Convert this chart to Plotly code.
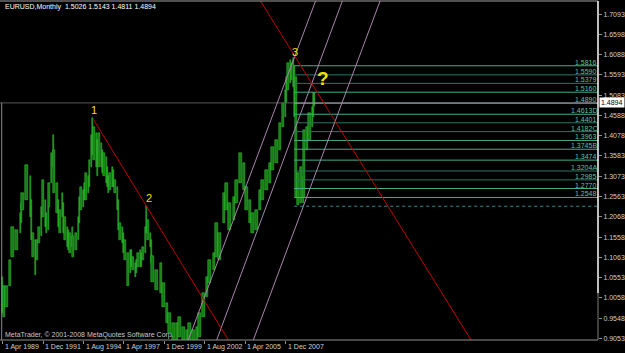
import plotly.graph_objects as go

# ---------------- data ----------------
# month index: 0 = Apr 1989
months = [0, 1, 3, 6, 8, 11, 14, 15, 16, 19, 22, 23, 24, 26, 27, 29, 31, 32, 34, 35,
          36, 37, 39, 40, 41, 43, 44, 45, 47, 48, 49, 51, 52, 53, 55, 56, 58, 60, 61, 62,
          64, 65, 66, 68, 69, 70, 71, 72, 74, 75, 76, 78, 79, 80, 82, 83, 84, 85, 87, 88,
          89, 91, 92, 93, 95, 96, 97, 99, 101, 102, 103, 105, 106, 107, 109, 110, 111, 113, 114, 115,
          117, 118, 119, 122, 125, 127, 130, 132, 135, 138, 140, 143, 146, 148, 151, 154, 156, 159, 162, 164,
          167, 169, 172, 175, 177, 180, 183, 185, 188, 191, 193, 196, 198, 201, 204, 206, 209, 212, 214, 217,
          220, 222, 224, 225, 226, 228, 229, 230, 231, 232, 234, 236, 238, 239, 241, 243, 245, 246, 247]
highs = [1.058, 1.034, 1.034, 1.100, 1.182, 1.174, 1.216, 1.240, 1.265, 1.335, 1.307, 1.249, 1.166, 1.149, 1.149, 1.182, 1.232, 1.298, 1.249, 1.216,
         1.232, 1.290, 1.364, 1.410, 1.373, 1.290, 1.249, 1.224, 1.265, 1.240, 1.207, 1.182, 1.174, 1.166, 1.182, 1.158, 1.166, 1.207, 1.257, 1.282,
         1.273, 1.290, 1.315, 1.307, 1.348, 1.410, 1.451, 1.430, 1.414, 1.397, 1.414, 1.389, 1.373, 1.364, 1.356, 1.331, 1.307, 1.315, 1.331, 1.323,
         1.298, 1.282, 1.249, 1.191, 1.182, 1.166, 1.149, 1.116, 1.125, 1.125, 1.108, 1.092, 1.100, 1.116, 1.125, 1.116, 1.133, 1.182, 1.234, 1.199,
         1.166, 1.149, 1.110, 1.075, 1.092, 1.043, 0.993, 0.968, 0.943, 0.943, 0.958, 0.933, 0.926, 0.943, 0.926, 0.933, 0.968, 1.018, 1.058, 1.100,
         1.117, 1.191, 1.167, 1.266, 1.291, 1.241, 1.256, 1.298, 1.365, 1.340, 1.281, 1.249, 1.216, 1.224, 1.273, 1.298, 1.323, 1.340, 1.380, 1.397,
         1.440, 1.489, 1.522, 1.554, 1.589, 1.596, 1.589, 1.601, 1.581, 1.554, 1.316, 1.330, 1.306, 1.422, 1.430, 1.464, 1.479, 1.514, 1.5143]
lows = [0.967, 0.959, 0.984, 1.034, 1.108, 1.125, 1.166, 1.191, 1.224, 1.249, 1.207, 1.149, 1.108, 1.063, 1.100, 1.141, 1.158, 1.207, 1.182, 1.166,
        1.174, 1.232, 1.290, 1.331, 1.265, 1.216, 1.182, 1.166, 1.207, 1.166, 1.149, 1.133, 1.125, 1.116, 1.133, 1.108, 1.125, 1.149, 1.191, 1.224,
        1.232, 1.249, 1.249, 1.265, 1.282, 1.331, 1.360, 1.348, 1.331, 1.307, 1.331, 1.331, 1.315, 1.307, 1.290, 1.282, 1.265, 1.273, 1.282, 1.282,
        1.265, 1.224, 1.174, 1.149, 1.141, 1.116, 1.100, 1.034, 1.067, 1.083, 1.075, 1.058, 1.067, 1.083, 1.083, 1.083, 1.100, 1.116, 1.166, 1.149,
        1.133, 1.092, 1.045, 1.025, 1.018, 0.983, 0.943, 0.919, 0.895, 0.895, 0.909, 0.895, 0.895, 0.895, 0.895, 0.895, 0.909, 0.958, 1.008, 1.043,
        1.075, 1.107, 1.100, 1.191, 1.224, 1.174, 1.199, 1.241, 1.291, 1.273, 1.224, 1.191, 1.167, 1.174, 1.224, 1.249, 1.273, 1.291, 1.323, 1.340,
        1.373, 1.430, 1.455, 1.489, 1.522, 1.539, 1.546, 1.529, 1.455, 1.256, 1.236, 1.240, 1.241, 1.256, 1.373, 1.397, 1.430, 1.455, 1.4811]

x_tick_months = [0, 32, 64, 96, 128, 160, 192, 224]
x_tick_labels = ["1 Apr 1989", "1 Dec 1991", "1 Aug 1994", "1 Apr 1997",
                 "1 Dec 1999", "1 Aug 2002", "1 Apr 2005", "1 Dec 2007"]

price_ticks = [1.7093, 1.6598, 1.6088, 1.5593, 1.5083, 1.4588, 1.4078, 1.3583, 1.3073,
               1.2563, 1.2068, 1.1558, 1.1063, 1.0553, 1.0058, 0.9548, 0.9053]

fib_levels = [1.5816, 1.5590, 1.5379, 1.5160, 1.4890, 1.4613, 1.4401, 1.4182,
              1.3963, 1.3745, 1.3474, 1.3204, 1.2985, 1.2770, 1.2548, 1.2330]
fib_labels = ["1.5816", "1.5590", "1.5379", "1.5160", "1.4890", "1.4613D", "1.4401", "1.4182C",
              "1.3963", "1.3745B", "1.3474", "1.3204A", "1.2985", "1.2770", "1.2548", ""]
fib_bright = [1, 0, 0, 1, 2, 1, 0, 0, 1, 1, 1, 0, 0, 1, 1, 3]
fib_start_month = 230.9

red_line_1 = ([71.8, 178.7], [1.4488, 0.9011])
red_line_2 = ([204.2, 370.9], [1.7423, 0.9011])
channel_lines = [([147.0, 247.8], [0.9011, 1.7423]),
                 ([169.5, 269.0], [0.9011, 1.7423]),
                 ([198.5, 298.9], [0.9011, 1.7423])]

bid_price = 1.4894
title_text = "EURUSD,Monthly  1.5026 1.5143 1.4811 1.4894"
copyright_text = "MetaTrader, © 2001-2008 MetaQuotes Software Corp."
wave_labels = [("1", 72.6, 1.4718), ("2", 116.1, 1.2542), ("3", 231.5, 1.6165)]
question_label = ("?", 253.5, 1.5512)

X_RANGE = [-2.14, 471.5]
Y_RANGE = [0.9011, 1.7423]

FONT = "Liberation Sans Narrow, Liberation Sans, Arial, sans-serif"

fig = go.Figure()

# price bars
widths = [(months[i + 1] - months[i]) * 0.8 for i in range(len(months) - 1)] + [0.9]
fig.add_trace(go.Bar(
    x=months, y=[h - l for h, l in zip(highs, lows)], base=lows, width=widths,
    marker=dict(color="#157d15", line=dict(color="#36d436", width=0.5)),
    hoverinfo="skip", showlegend=False))

# bid line
fig.add_trace(go.Scatter(x=X_RANGE, y=[bid_price, bid_price], mode="lines",
                         line=dict(color="#5a5a5a", width=1), hoverinfo="skip", showlegend=False))

# fibonacci levels
fib_colors = {0: "#2d7564", 1: "#48ac8c", 2: "#a4b4b8", 3: "#3a88a0"}
for lvl, br in zip(fib_levels, fib_bright):
    fig.add_trace(go.Scatter(x=[fib_start_month, X_RANGE[1]], y=[lvl, lvl], mode="lines",
                             line=dict(color=fib_colors[br], width=1,
                                       dash="dot" if br == 3 else "solid"),
                             hoverinfo="skip", showlegend=False))

# channel lines
for xs, ys in channel_lines:
    fig.add_trace(go.Scatter(x=xs, y=ys, mode="lines", line=dict(color="#a887ab", width=1),
                             hoverinfo="skip", showlegend=False))
# red trend lines
for xs, ys in (red_line_1, red_line_2):
    fig.add_trace(go.Scatter(x=xs, y=ys, mode="lines", line=dict(color="#c00000", width=1),
                             hoverinfo="skip", showlegend=False))

annotations = []
for lvl, lab in zip(fib_levels, fib_labels):
    if lab:
        annotations.append(dict(x=1, xref="paper", y=lvl, yref="y", text=lab, showarrow=False,
                                xanchor="right", yanchor="bottom", yshift=-2, xshift=1,
                                font=dict(family=FONT, size=7, color="#5ec2a2")))
for t, mx, py in wave_labels:
    annotations.append(dict(x=mx, y=py, text=t, showarrow=False,
                            font=dict(family="Liberation Sans, Arial", size=11, color="#f0e000")))
t, mx, py = question_label
annotations.append(dict(x=mx, y=py, text="<b>" + t + "</b>", showarrow=False,
                        font=dict(family="Liberation Sans, Arial", size=19, color="#f0e000")))
# x labels
for m, lab in zip(x_tick_months, x_tick_labels):
    annotations.append(dict(x=m, y=0, xref="x", yref="paper", text=lab, showarrow=False,
                            xanchor="left", yanchor="top", xshift=0, yshift=-1,
                            font=dict(family=FONT, size=7, color="#d0d0d0")))
# title and copyright
annotations.append(dict(x=0, y=1, xref="paper", yref="paper", text=title_text, showarrow=False,
                        xanchor="left", yanchor="top", xshift=3, yshift=0,
                        font=dict(family=FONT, size=7, color="#ffffff")))
annotations.append(dict(x=0, y=0, xref="paper", yref="paper", text=copyright_text, showarrow=False,
                        xanchor="left", yanchor="bottom", xshift=3, yshift=-1,
                        font=dict(family=FONT, size=7, color="#c8c8c8")))
# bid price box
annotations.append(dict(x=1, xref="paper", y=bid_price, yref="y", text=f"{bid_price:.4f}",
                        showarrow=False, xanchor="left", yanchor="middle", xshift=1,
                        bgcolor="#ffffff", borderpad=1,
                        font=dict(family=FONT, size=7, color="#000000")))

shapes = [
    dict(type="line", xref="paper", yref="paper", x0=0, x1=1, y0=1, y1=1,
         line=dict(color="#a0a0a0", width=1)),
    dict(type="line", xref="paper", yref="paper", x0=0, x1=1, y0=0, y1=0,
         line=dict(color="#909090", width=1)),
    dict(type="line", xref="paper", yref="paper", x0=1, x1=1, y0=0.1386, y1=1,
         line=dict(color="#ffffff", width=1.5)),
    dict(type="line", xref="paper", yref="paper", x0=1, x1=1, y0=0, y1=0.1386,
         line=dict(color="#808070", width=1)),
    dict(type="line", xref="x", yref="y", x0=-0.8, x1=-0.8, y0=Y_RANGE[0], y1=bid_price,
         line=dict(color="#8a8a8a", width=1)),
]

fig.update_layout(
    width=625, height=353, margin=dict(l=0, r=27, t=1, b=13),
    paper_bgcolor="#000000", plot_bgcolor="#000000",
    bargap=0, showlegend=False, hovermode=False,
    annotations=annotations, shapes=shapes,
    xaxis=dict(range=X_RANGE, showgrid=False, zeroline=False, showline=False,
               tickvals=x_tick_months, ticktext=[""] * len(x_tick_months),
               ticks="outside", ticklen=3, tickcolor="#909090", tickwidth=1),
    yaxis=dict(range=Y_RANGE, side="right", showgrid=False, zeroline=False, showline=False,
               tickvals=price_ticks, ticktext=[f"{v:.4f}" for v in price_ticks],
               ticks="outside", ticklen=3, tickcolor="#909090", tickwidth=1,
               tickfont=dict(family=FONT, size=7, color="#d0d0d0")),
)

fig.write_html("out.html")
